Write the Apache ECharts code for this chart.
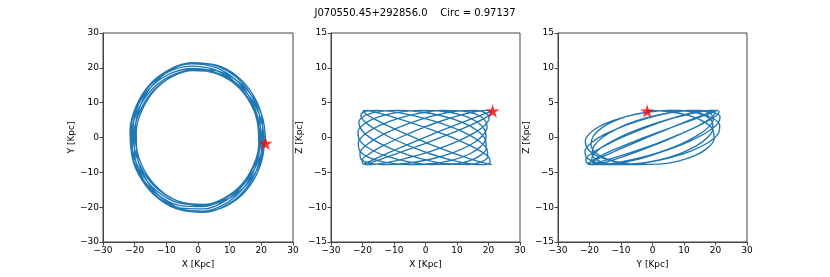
<!DOCTYPE html>
<html>
<head>
<meta charset="utf-8">
<script src="https://cdn.jsdelivr.net/npm/echarts@6/dist/echarts.min.js"></script>
<style>
html,body{margin:0;padding:0;background:#fff;}
#chart{width:830px;height:277px;}
</style>
</head>
<body>
<div id="chart"></div>
<script>
// ---- data (kpc) ----
const titleText = 'J070550.45+292856.0    Circ = 0.97137';
const orbitX = [21.36,20.46,17.05,11.69,5.16,-1.71,-8.17,-13.61,-17.52,-19.49,-19.23,-16.66,-11.91,-5.47,1.87,9.11,15.20,19.30,
  20.88,19.84,16.47,11.31,5.02,-1.68,-8.15,-13.76,-17.92,-20.10,-19.92,-17.23,-12.24,-5.57,1.88,9.04,14.91,18.76,
  20.18,19.16,15.98,11.07,4.98,-1.69,-8.30,-14.16,-18.54,-20.81,-20.52,-17.59,-12.36,-5.55,1.85,8.81,14.44,18.12,
  19.55,18.70,15.77,11.08,5.05,-1.73,-8.58,-14.67,-19.14,-21.33,-20.81,-17.62,-12.23,-5.43,1.79,8.51,13.96,17.62,
  19.20,18.61,15.93,11.32,5.21,-1.79,-8.87,-15.08,-19.49,-21.46,-20.68,-17.30,-11.90,-5.25,1.73,8.25,13.65,17.45,
  19.29,18.95,16.38,11.71,5.40,-1.85,-9.07,-15.24,-19.46,-21.16,-20.18,-16.76,-11.49,-5.09,1.69,8.14,13.65,17.68,
  19.76,19.57,16.96,12.10,5.54,-1.88,-9.09,-15.09,-19.06,-20.54,-19.49,-16.20,-11.16,-4.99,1.68,8.20,13.94,18.22,
  20.46,20.25,17.44,12.33,5.58,-1.87,-8.94,-14.69,-18.43,-19.83,-18.89,-15.84,-11.04,-5.01,1.71,8.43,14.41,18.86,
  21.10];
const orbitY = [-1.87,5.48,11.94,16.70,19.27,19.52,17.53,13.61,8.17,1.71,-5.15,-11.67,-17.01,-20.43,-21.34,-19.53,-15.20,-9.00,
  -1.83,5.32,11.53,16.15,18.75,19.19,17.47,13.76,8.35,1.76,-5.34,-12.06,-17.48,-20.79,-21.46,-19.39,-14.91,-8.75,
  -1.77,5.13,11.19,15.81,18.59,19.31,17.81,14.16,8.65,1.82,-5.50,-12.32,-17.65,-20.73,-21.13,-18.90,-14.44,-8.45,
  -1.71,5.01,11.04,15.82,18.86,19.80,18.40,14.67,8.93,1.87,-5.57,-12.34,-17.47,-20.27,-20.50,-18.25,-13.96,-8.22,
  -1.68,4.99,11.15,16.17,19.45,20.50,19.02,15.08,9.09,1.88,-5.54,-12.11,-16.99,-19.61,-19.80,-17.70,-13.65,-8.14,
  -1.69,5.08,11.47,16.73,20.14,21.13,19.45,15.24,9.07,1.85,-5.41,-11.74,-16.41,-18.98,-19.31,-17.45,-13.65,-8.24,
  -1.73,5.24,11.87,17.28,20.66,21.46,19.50,15.09,8.89,1.80,-5.22,-11.34,-15.94,-18.62,-19.19,-17.59,-13.94,-8.49,
  -1.79,5.42,12.21,17.61,20.82,21.34,19.17,14.69,8.60,1.74,-5.06,-11.09,-15.77,-18.68,-19.52,-18.08,-14.41,-8.79,
  -1.85];
const orbitZ = [3.90,3.69,3.09,2.17,1.01,-0.26,-1.49,-2.57,-3.38,-3.83,-3.87,-3.50,-2.76,-1.72,-0.51,0.76,1.95,2.93,
  3.60,3.89,3.77,3.24,2.37,1.25,0.00,-1.25,-2.37,-3.24,-3.77,-3.89,-3.60,-2.93,-1.95,-0.76,0.51,1.72,
  2.76,3.50,3.87,3.83,3.38,2.57,1.49,0.26,-1.01,-2.17,-3.09,-3.69,-3.90,-3.69,-3.09,-2.17,-1.01,0.26,
  1.49,2.57,3.38,3.83,3.87,3.50,2.76,1.72,0.51,-0.76,-1.95,-2.93,-3.60,-3.89,-3.77,-3.24,-2.37,-1.25,
  0.00,1.25,2.37,3.24,3.77,3.89,3.60,2.93,1.95,0.76,-0.51,-1.72,-2.76,-3.50,-3.87,-3.83,-3.38,-2.57,
  -1.49,-0.26,1.01,2.17,3.09,3.69,3.90,3.69,3.09,2.17,1.01,-0.26,-1.49,-2.57,-3.38,-3.83,-3.87,-3.50,
  -2.76,-1.72,-0.51,0.76,1.95,2.93,3.60,3.89,3.77,3.24,2.37,1.25,0.00,-1.25,-2.37,-3.24,-3.77,-3.89,
  -3.60,-2.93,-1.95,-0.76,0.51,1.72,2.76,3.50,3.87,3.83,3.38,2.57,1.49,0.26,-1.01,-2.17,-3.09,-3.69,
  -3.90];
const starPos = [21.3, -1.7, 3.8]; // X, Y, Z
const panelNames = [['X [Kpc]', 'Y [Kpc]'], ['X [Kpc]', 'Z [Kpc]'], ['Y [Kpc]', 'Z [Kpc]']];
const xRange = [-30, 30, 10];
const yRanges = [[-30, 30, 10], [-15, 15, 5], [-15, 15, 5]];

// ---- chart ----
const FONT = 'DejaVu Sans';
const chart = echarts.init(document.getElementById('chart'), null, {renderer: 'canvas'});
const grids = [
  {left: 103, top: 33, width: 190, height: 209},
  {left: 331, top: 33, width: 189, height: 209},
  {left: 558, top: 33, width: 189, height: 209}
].map(g => Object.assign(g, {show: true, borderColor: '#444', borderWidth: 1, backgroundColor: '#fff', containLabel: false}));

const minusFmt = v => String(v).replace('-', '\u2212');
function axis(i, name, rng, isX) {
  return {
    type: 'value', gridIndex: i, min: rng[0], max: rng[1], interval: rng[2],
    name: name, nameLocation: 'middle', nameGap: isX ? 17 : 23,
    nameTextStyle: {fontFamily: FONT, fontSize: 9, color: '#000'},
    axisLine: {show: true, onZero: false, lineStyle: {color: '#444', width: 1}},
    axisTick: {show: true, inside: false, length: 3.5, lineStyle: {color: '#444', width: 1}},
    axisLabel: {show: true, fontFamily: FONT, fontSize: 9, color: '#000', margin: 4, formatter: minusFmt},
    splitLine: {show: false}
  };
}
const cols = {X: orbitX, Y: orbitY, Z: orbitZ};
const starCols = {X: starPos[0], Y: starPos[1], Z: starPos[2]};
const pairs = [['X', 'Y'], ['X', 'Z'], ['Y', 'Z']];
const series = [];
pairs.forEach((p, i) => {
  const a = cols[p[0]], b = cols[p[1]];
  series.push({
    type: 'line', xAxisIndex: i, yAxisIndex: i,
    data: a.map((v, k) => [v, b[k]]),
    showSymbol: false, smooth: 0.34, smoothMonotone: 'none', silent: true,
    lineStyle: {color: '#1f77b4', width: 1.35, join: 'round'},
    animation: false
  });
  series.push({
    type: 'scatter', xAxisIndex: i, yAxisIndex: i, z: 5,
    data: [[starCols[p[0]], starCols[p[1]]]],
    symbol: 'path://M0,-1L0.2245,-0.309L0.951,-0.309L0.363,0.118L0.588,0.809L0,0.382L-0.588,0.809L-0.363,0.118L-0.951,-0.309L-0.2245,-0.309Z',
    symbolKeepAspect: true, symbolSize: 14,
    itemStyle: {color: '#ff0000'}, animation: false
  });
});

chart.setOption({
  animation: false,
  title: {text: titleText, left: 'center', top: 3,
    textStyle: {fontFamily: FONT, fontSize: 10, fontWeight: 'normal', color: '#000'}},
  grid: grids,
  xAxis: pairs.map((p, i) => axis(i, panelNames[i][0], xRange, true)),
  yAxis: pairs.map((p, i) => axis(i, panelNames[i][1], yRanges[i], false)),
  series: series
});
</script>
</body>
</html>
